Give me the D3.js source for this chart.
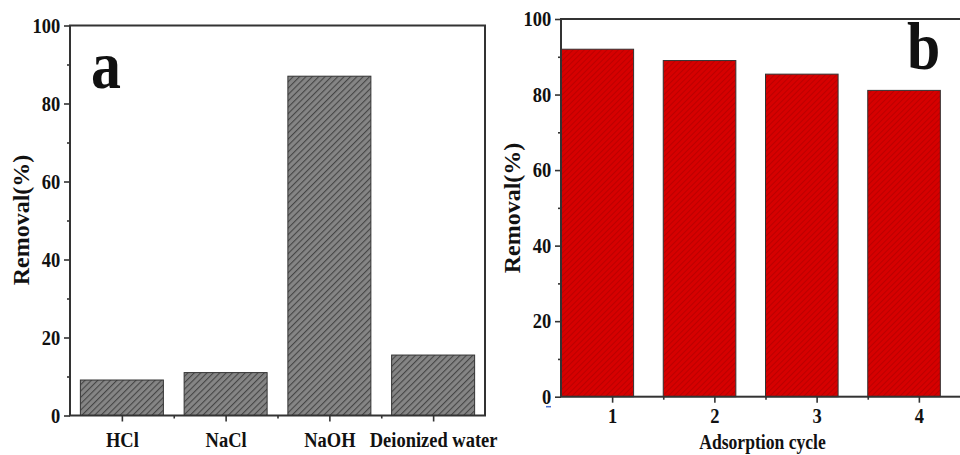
<!DOCTYPE html>
<html>
<head>
<meta charset="utf-8">
<script src="https://cdn.jsdelivr.net/npm/d3@7"></script>
<style>
  html, body { margin: 0; padding: 0; background: #fff; }
  svg { display: block; }
  text { font-family: "Liberation Serif", "Times New Roman", serif; font-weight: bold; fill: #111; }
</style>
</head>
<body>
<svg id="chart" width="960" height="455"></svg>
<script>
'use strict';

/* panel a: desorption agents */
const agents      = ['HCl', 'NaCl', 'NaOH', 'Deionized water'];
const agentRemove = [9.1, 11.0, 87.0, 15.5];

/* panel b: reuse cycles */
const cycles      = ['1', '2', '3', '4'];
const cycleRemove = [92.0, 89.0, 85.4, 81.1];

const yMajor = [0, 20, 40, 60, 80, 100];
const yMinor = [10, 30, 50, 70, 90];
const xMinor = [1.5, 2.5, 3.5];

const SX = 0.88; // the original figure is a bit squeezed sideways

const svg  = d3.select('#chart');
const defs = svg.append('defs');

/* hatch patterns */
function hatch(id, bg, fg, gap, lw) {
  const p = defs.append('pattern').attr('id', id)
    .attr('patternUnits', 'userSpaceOnUse')
    .attr('width', gap).attr('height', gap)
    .attr('patternTransform', 'rotate(45)');
  p.append('rect').attr('width', gap).attr('height', gap).attr('fill', bg);
  p.append('line').attr('x1', 0).attr('y1', 0).attr('x2', 0).attr('y2', gap)
    .attr('stroke', fg).attr('stroke-width', lw);
}
hatch('hatch-grey', '#858585', '#454545', 4.5, 2.2);
hatch('hatch-red',  '#d60000', '#b00000', 4, 1.4);

function panel(o) {
  const g = svg.append('g');
  const x = d3.scaleLinear().domain([0.5, 4.5]).range(o.xr);
  const y = d3.scaleLinear().domain([0, 100]).range(o.yr);

  g.selectAll('rect.bar').data(o.values).join('rect')
    .attr('class', 'bar')
    .attr('x', (d, i) => x(i + 1 + o.barOff))
    .attr('width', x(o.barW) - x(0))
    .attr('y', d => y(d))
    .attr('height', d => y(0) - y(d))
    .attr('fill', `url(#${o.pattern})`)
    .attr('stroke', '#333').attr('stroke-width', 1);

  // frame
  g.append('rect')
    .attr('x', o.xr[0]).attr('y', o.yr[1])
    .attr('width', o.xr[1] - o.xr[0]).attr('height', o.yr[0] - o.yr[1])
    .attr('fill', 'none').attr('stroke', '#333').attr('stroke-width', 2);

  const styleAxis = sel => {
    sel.select('.domain').remove();
    sel.selectAll('line').attr('stroke', '#333').attr('stroke-width', 1.6);
    sel.selectAll('text').attr('fill', '#111').style('font-size', '21px')
      .attr('transform', `scale(${SX},1)`);
  };

  g.append('g').attr('transform', `translate(${o.xr[0]},0)`)
    .call(d3.axisLeft(y).tickValues(yMajor).tickSize(6).tickPadding(5))
    .call(styleAxis);
  g.append('g').attr('transform', `translate(${o.xr[0]},0)`)
    .call(d3.axisLeft(y).tickValues(yMinor).tickSize(3).tickFormat(''))
    .call(styleAxis);

  g.append('g').attr('transform', `translate(0,${o.yr[0]})`)
    .call(d3.axisBottom(x).tickValues([1, 2, 3, 4]).tickSize(6).tickPadding(o.xPad)
      .tickFormat(d => o.cats[d - 1]))
    .call(styleAxis);
  g.append('g').attr('transform', `translate(0,${o.yr[0]})`)
    .call(d3.axisBottom(x).tickValues(xMinor).tickSize(3).tickFormat(''))
    .call(styleAxis);

  g.append('text')
    .attr('transform', `translate(${o.titleX},${o.titleY}) rotate(-90)`)
    .attr('text-anchor', 'middle').attr('dy', '0.35em')
    .style('font-size', '24px')
    .text('Removal(%)');

  g.append('text')
    .attr('transform', `translate(${o.letterX},${o.letterY}) scale(${SX},1)`)
    .style('font-size', '68px').text(o.letter);

  return { g, x, y };
}

const a = panel({
  cats: agents, values: agentRemove, pattern: 'hatch-grey',
  xr: [70, 485], yr: [415.5, 25.5], barOff: -0.4, barW: 0.8, xPad: 10.5,
  titleX: 21, titleY: 220, letter: 'a', letterX: 91, letterY: 88
});

const b = panel({
  cats: cycles, values: cycleRemove, pattern: 'hatch-red',
  xr: [561, 970], yr: [396.7, 19], barOff: -0.5, barW: 0.71, xPad: 5,
  titleX: 512, titleY: 208, letter: 'b', letterX: 907, letterY: 69
});

b.g.append('text')
  .attr('transform', `translate(${d3.mean(b.x.range()) - 3},449) scale(${SX},1)`)
  .attr('text-anchor', 'middle')
  .style('font-size', '20px')
  .text('Adsorption cycle');

// small blue mark under the "0" of panel b
b.g.append('line')
  .attr('x1', b.x.range()[0] - 15).attr('x2', b.x.range()[0] - 10)
  .attr('y1', b.y(0) + 10).attr('y2', b.y(0) + 10)
  .attr('stroke', '#4a6fd0').attr('stroke-width', 1.5);
</script>
</body>
</html>
